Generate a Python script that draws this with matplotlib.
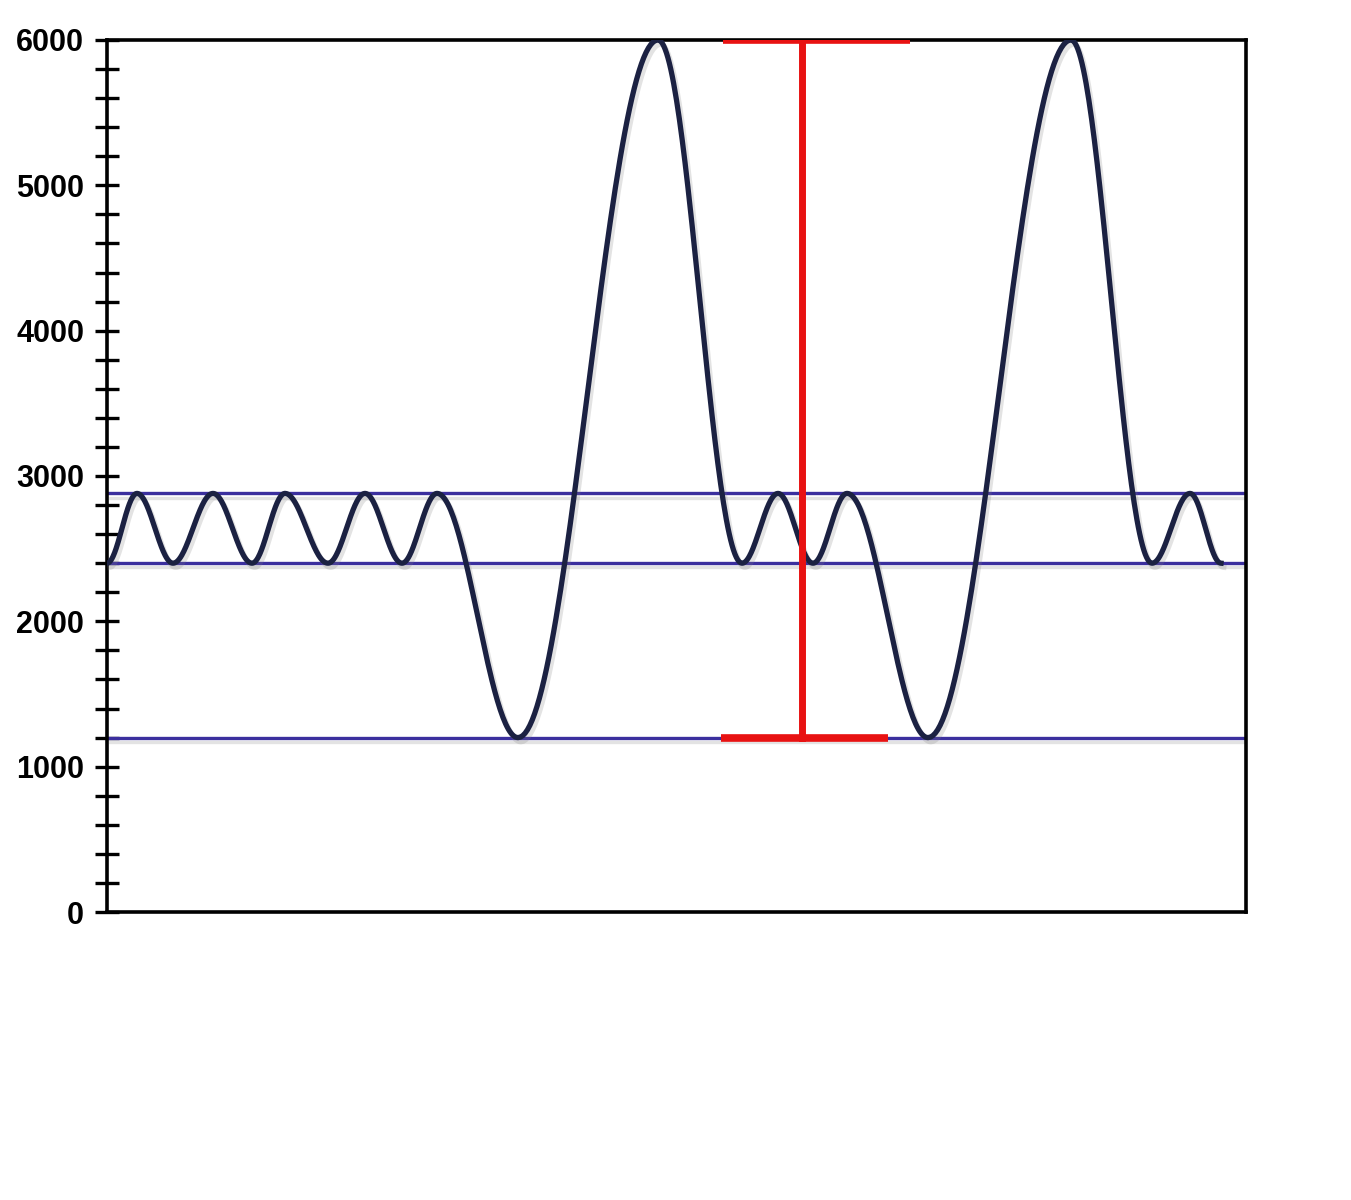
import numpy as np
import matplotlib.pyplot as plt
import matplotlib.patheffects as pe

# Peaks and troughs of the waveform (x in arbitrary units)
peak_x = [0, 30, 66, 106, 145, 178, 221, 258, 295, 330, 411, 551, 635,
          671, 706, 740, 821, 964, 1045, 1083, 1114]
peak_y = [2400, 2880, 2400, 2880, 2400, 2880, 2400, 2880, 2400, 2880, 1200,
          6000, 2400, 2880, 2400, 2880, 1200, 6000, 2400, 2880, 2400]

levels = [2880, 2400, 1200]          # horizontal reference lines
bar_x = 695                          # red range marker
bar_low, bar_high = 1200, 6000
cap_top = (616, 803)
cap_bottom = (614, 781)

yticks = [0, 1000, 2000, 3000, 4000, 5000, 6000]

# smooth half-cosine between consecutive extrema
xs, ys = [], []
for i in range(len(peak_x) - 1):
    t = np.linspace(0, 1, 60)
    w = (1 - np.cos(np.pi * t)) / 2
    xs.extend(peak_x[i] + (peak_x[i + 1] - peak_x[i]) * t)
    ys.extend(peak_y[i] + (peak_y[i + 1] - peak_y[i]) * w)

fig = plt.figure(figsize=(13.51, 12), dpi=100)
ax = fig.add_axes([0.0792, 0.24, 0.8431, 0.7267])

shadow = [pe.SimpleLineShadow(offset=(2, -3), shadow_color='gray', alpha=0.22), pe.Normal()]

for lv in levels:
    ax.axhline(lv, color='#3b2f9e', lw=2.4, path_effects=shadow, zorder=2)

ax.plot(xs, ys, color='#1b2142', lw=3.8, path_effects=shadow, zorder=3)

ax.plot([bar_x, bar_x], [bar_low, bar_high], color='#e81212', lw=5, zorder=4)
ax.plot(cap_top, [bar_high, bar_high], color='#e81212', lw=5.5, solid_capstyle='butt', zorder=4)
ax.plot(cap_bottom, [bar_low, bar_low], color='#e81212', lw=5.5, solid_capstyle='butt', zorder=4)

ax.set_xlim(0, 1139)
ax.set_ylim(0, 6000)
ax.set_xticks([])
ax.set_yticks(yticks)
ax.set_yticks(np.arange(0, 6001, 200), minor=True)
ax.set_yticklabels([str(v) for v in yticks], fontfamily='Liberation Sans',
                   fontweight='bold', fontsize=22)
ax.tick_params(axis='y', which='both', direction='inout', length=17, width=2.4,
               color='black', pad=8)

for s in ax.spines.values():
    s.set_linewidth(2.6)
    s.set_color('black')

fig.savefig('out.png', dpi=100)
